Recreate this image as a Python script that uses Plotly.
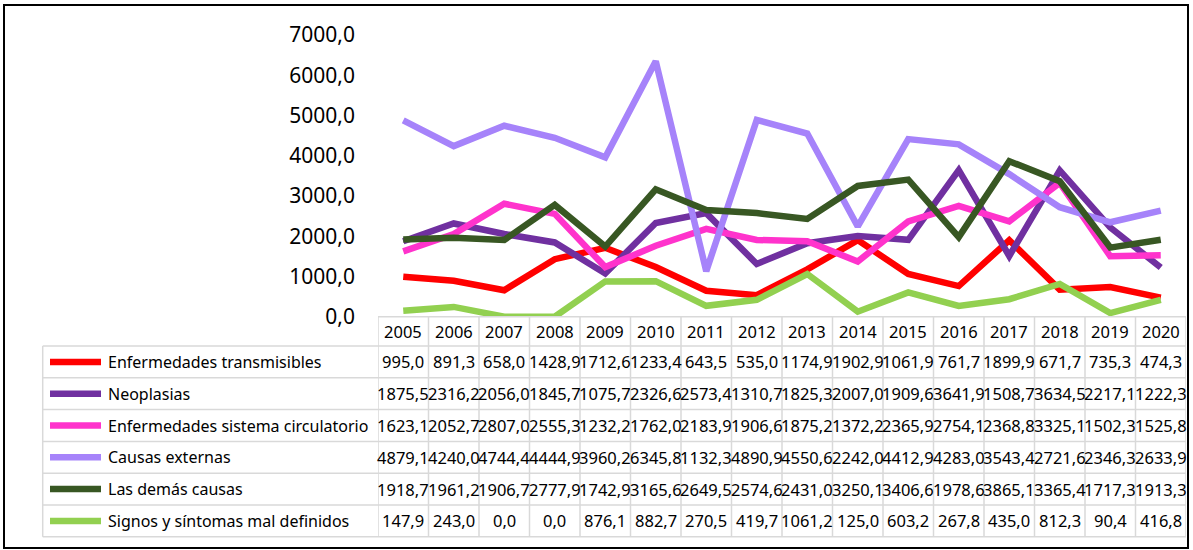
import plotly.graph_objects as go

W, H = 1193, 550

years = [str(y) for y in range(2005, 2021)]

causas = [
    "Enfermedades transmisibles",
    "Neoplasias",
    "Enfermedades sistema circulatorio",
    "Causas externas",
    "Las demás causas",
    "Signos y síntomas mal definidos",
]

transmisibles = [995.0, 891.3, 658.0, 1428.9, 1712.6, 1233.4, 643.5, 535.0,
                 1174.9, 1902.9, 1061.9, 761.7, 1899.9, 671.7, 735.3, 474.3]
neoplasias = [1875.5, 2316.2, 2056.0, 1845.7, 1075.7, 2326.6, 2573.4, 1310.7,
              1825.3, 2007.0, 1909.6, 3641.9, 1508.7, 3634.5, 2217.1, 1222.3]
circulatorio = [1623.1, 2052.7, 2807.0, 2555.3, 1232.2, 1762.0, 2183.9, 1906.6,
                1875.2, 1372.2, 2365.9, 2754.1, 2368.8, 3325.1, 1502.3, 1525.8]
externas = [4879.1, 4240.0, 4744.4, 4444.9, 3960.2, 6345.8, 1132.3, 4890.9,
            4550.6, 2242.0, 4412.9, 4283.0, 3543.4, 2721.6, 2346.3, 2633.9]
demas = [1918.7, 1961.2, 1906.7, 2777.9, 1742.9, 3165.6, 2649.5, 2574.6,
         2431.0, 3250.1, 3406.6, 1978.6, 3865.1, 3365.4, 1717.3, 1913.3]
signos = [147.9, 243.0, 0.0, 0.0, 876.1, 882.7, 270.5, 419.7,
          1061.2, 125.0, 603.2, 267.8, 435.0, 812.3, 90.4, 416.8]

series = [transmisibles, neoplasias, circulatorio, externas, demas, signos]
colores = ["#FF0000", "#7030A0", "#FF33CC", "#A683FA", "#385723", "#92D050"]

FONT = "Noto Sans"
GRID = "#D9D9D9"


def px(x):
    return x / W


def py(y):
    return 1 - y / H


def fmt(v):
    return f"{v:.1f}".replace(".", ",")


x_idx = list(range(len(years)))

fig = go.Figure()

for nombre, vals, col in zip(causas, series, colores):
    fig.add_trace(go.Scatter(
        x=x_idx,
        y=vals,
        name=nombre,
        mode="lines",
        line=dict(color=col, width=6.5),
        hovertemplate=f"{nombre}<br>%{{y:.1f}}<extra></extra>",
    ))

# tabla de datos
top_hdr, top_rows, row_h = 316.7, 346.0, 31.8
bottom = top_rows + row_h * len(causas)
left_tab, right_tab = 42.7, 1186.0

shapes = []
annotations = []


def texto(x, y, t, xref="x", xanchor="center", size=16.5):
    return dict(x=x, y=y, xref=xref, yref="paper", text=t, showarrow=False,
                xanchor=xanchor, yanchor="middle",
                font=dict(family=FONT, size=size, color="black"))


# bordes horizontales
shapes.append(dict(type="line", xref="paper", yref="paper",
                   x0=px(378), x1=px(right_tab), y0=py(top_hdr), y1=py(top_hdr),
                   line=dict(color=GRID, width=1.5)))
for k in range(len(causas) + 1):
    yy = top_rows + k * row_h
    shapes.append(dict(type="line", xref="paper", yref="paper",
                       x0=px(left_tab), x1=px(right_tab), y0=py(yy), y1=py(yy),
                       line=dict(color=GRID, width=1.5)))
# bordes verticales
shapes.append(dict(type="line", xref="paper", yref="paper",
                   x0=px(left_tab), x1=px(left_tab), y0=py(top_rows), y1=py(bottom),
                   line=dict(color=GRID, width=1.5)))
for i in range(len(years) + 1):
    shapes.append(dict(type="line", xref="x", yref="paper",
                       x0=i - 0.5, x1=i - 0.5, y0=py(top_hdr), y1=py(bottom),
                       line=dict(color=GRID, width=1.5)))

# encabezado de años
for i, a in enumerate(years):
    annotations.append(texto(i, py((top_hdr + top_rows) / 2), a))

# filas
for k, (nombre, vals, col) in enumerate(zip(causas, series, colores)):
    yc = py(top_rows + row_h * (k + 0.5))
    shapes.append(dict(type="line", xref="paper", yref="paper",
                       x0=px(50), x1=px(101), y0=yc, y1=yc,
                       line=dict(color=col, width=6.5)))
    annotations.append(texto(px(106), yc, nombre, xref="paper", xanchor="left", size=16))
    for i, v in enumerate(vals):
        annotations.append(texto(i, yc, fmt(v)))

# borde del gráfico
shapes.append(dict(type="rect", xref="paper", yref="paper",
                   x0=px(4), x1=px(1188), y0=py(5), y1=py(548),
                   line=dict(color="black", width=2)))

fig.update_layout(
    width=W,
    height=H,
    margin=dict(l=0, r=0, t=0, b=0, pad=0),
    separators=",.",
    showlegend=False,
    plot_bgcolor="white",
    paper_bgcolor="white",
    font=dict(family=FONT, color="black"),
    xaxis=dict(domain=[px(378), px(right_tab)], range=[-0.5, len(years) - 0.5],
               visible=False, automargin=False),
    yaxis=dict(domain=[py(top_hdr), py(35)], range=[0, 7000], dtick=1000,
               tickformat=".1f", showgrid=False, zeroline=False, showline=False,
               ticks="", ticklabelstandoff=22, automargin=False,
               tickfont=dict(family=FONT, size=21, color="black")),
    shapes=shapes,
    annotations=annotations,
)

fig.write_html("out.html", config={"displayModeBar": False},
               post_script="document.body.style.margin='0';")
